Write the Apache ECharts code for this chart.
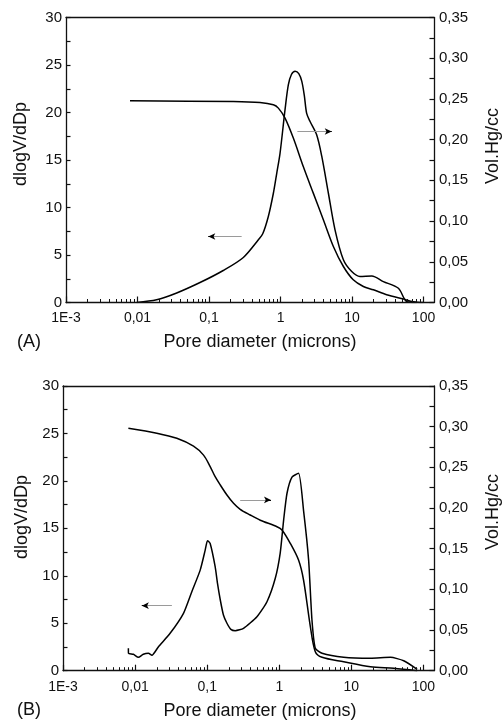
<!DOCTYPE html>
<html><head><meta charset="utf-8">
<script src="https://cdn.jsdelivr.net/npm/echarts@6/dist/echarts.min.js"></script>
<style>html,body{margin:0;padding:0;background:#fff}#c{width:502px;height:721px}</style>
</head><body><div id="c"></div>
<script>
// ---- tick labels ----
const xMajorTicks = [0.001, 0.01, 0.1, 1, 10, 100];
const xTickLabels = ['1E-3', '0,01', '0,1', '1', '10', '100'];
const xMinorTicks = [0.002,0.003,0.004,0.005,0.006,0.007,0.008,0.009,
  0.02,0.03,0.04,0.05,0.06,0.07,0.08,0.09,
  0.2,0.3,0.4,0.5,0.6,0.7,0.8,0.9,
  2,3,4,5,6,7,8,9,
  20,30,40,50,60,70,80,90];

// ---- Panel A ----
const aDlogX = [0.00975,0.0185,0.0353,0.0748,0.158,0.302,0.49,0.564,0.675,0.794,0.885,0.984,1.156,1.285,1.42,1.6,1.8,1.98,2.15,2.32,2.59,3.2,3.77,4.67,5.78,7.57,9.9,12.9,18.9,27.4,44.5,58.2,80];
const aDlogY = [0,0.28,1.0,2.1,3.37,4.74,6.6,7.23,9.05,11.5,13.6,15.7,20.3,22.9,24.0,24.35,24.1,23.3,21.8,19.9,19.05,17.65,15.4,11.5,7.65,4.5,3.26,2.74,2.8,2.2,1.5,0.1,0];
const aVolX = [0.00785,0.219,0.516,0.794,0.933,1.156,1.51,2.08,2.88,3.97,5.48,7.57,10.4,14.4,19.9,30.5,52,72,100];
const aVolY = [0.2477,0.2468,0.2456,0.2428,0.2387,0.2264,0.2019,0.167,0.134,0.1016,0.0688,0.0442,0.0279,0.0197,0.0156,0.0095,0.0042,0.001,0];

// ---- Panel B ----
const bDlogX = [0.00807,0.0081,0.00946,0.0111,0.013,0.0153,0.0171,0.0211,0.0306,0.0469,0.0612,0.08,0.0938,0.101,0.110,0.129,0.139,0.152,0.168,0.188,0.213,0.245,0.319,0.49,0.675,0.88,1.03,1.15,1.28,1.5,1.85,2.17,2.55,2.84,3.16,3.92,7.82,18.4,34.8,53.2,81.8];
const bDlogY = [2.36,1.83,1.73,1.41,1.73,1.83,1.62,2.53,3.94,6.05,8.33,10.6,12.7,13.7,13.4,10.96,9.2,7.45,5.87,5.0,4.36,4.22,4.47,5.69,7.27,9.74,12.4,15.9,18.7,20.4,20.8,16.9,11.7,5.34,2.36,1.83,1.41,1.31,1.41,1.05,0.15];
const bVolX = [0.00807,0.02,0.0379,0.0646,0.089,0.110,0.129,0.152,0.188,0.232,0.287,0.395,0.545,0.929,1.09,1.42,1.85,2.17,2.7,3.16,3.92,7.82,18.4,38.7,81.8];
const bVolY = [0.298,0.2919,0.2857,0.276,0.265,0.251,0.2385,0.2283,0.216,0.2058,0.1984,0.1914,0.185,0.177,0.173,0.1566,0.136,0.1115,0.054,0.0234,0.0165,0.011,0.0049,0.003,0];

// ---- arrows: [xStart, xEnd, y on left axis] ----
const aArrows = [[0.286, 0.0977, 6.95], [1.72, 5.2, 18.0]];
const bArrows = [[0.0324, 0.0124, 6.85], [0.287, 0.767, 18.0]];

const zip = (xs, ys) => xs.map((x, i) => [x, ys[i]]);
const TXT = '#111';
const FONT = 'Liberation Sans, Arial, sans-serif';
const AX = '#111';

function xAxesFor(g) {
  return [{
    type: 'log', logBase: 10, gridIndex: g, position: 'bottom', min: 0.001, max: 140,
    axisLine: { show: true, onZero: false, lineStyle: { color: AX, width: 1.3 } },
    axisTick: { show: true, inside: true, length: 6, customValues: xMajorTicks, lineStyle: { color: AX, width: 1.2 } },
    axisLabel: { show: true, customValues: xMajorTicks, fontSize: 14, color: TXT, fontFamily: FONT, margin: 9,
      formatter: v => xTickLabels[Math.round(Math.log10(v)) + 3] },
    splitLine: { show: false }, z: 5
  }, {
    type: 'log', logBase: 10, gridIndex: g, position: 'bottom', min: 0.001, max: 140,
    axisLine: { show: false, onZero: false },
    axisTick: { show: true, inside: true, length: 3.5, customValues: xMinorTicks, lineStyle: { color: AX, width: 1 } },
    axisLabel: { show: false },
    splitLine: { show: false }, z: 5
  }, {
    type: 'log', logBase: 10, gridIndex: g, position: 'top', min: 0.001, max: 140,
    axisLine: { show: true, onZero: false, lineStyle: { color: AX, width: 1.3 } },
    axisTick: { show: false }, axisLabel: { show: false }, splitLine: { show: false }
  }];
}
function yAxesFor(g) {
  return [{
    type: 'value', gridIndex: g, position: 'left', min: 0, max: 30, interval: 2.5,
    axisLine: { show: true, onZero: false, lineStyle: { color: AX, width: 1.3 } },
    axisTick: { show: true, inside: true, length: 4.5, lineStyle: { color: AX, width: 1.2 } },
    axisLabel: { fontSize: 15, color: TXT, fontFamily: FONT, margin: 4,
      formatter: v => (Math.abs(v % 5) < 1e-9 ? String(v) : '') },
    splitLine: { show: false }, z: 5
  }, {
    type: 'value', gridIndex: g, position: 'right', min: 0, max: 0.35, interval: 0.025,
    axisLine: { show: true, onZero: false, lineStyle: { color: AX, width: 1.3 } },
    axisTick: { show: true, inside: true, length: 4.5, lineStyle: { color: AX, width: 1.2 } },
    axisLabel: { fontSize: 15, color: TXT, fontFamily: FONT, margin: 5,
      formatter: v => (Math.abs(Math.round(v * 1000) % 50) < 1e-6 ? v.toFixed(2).replace('.', ',') : '') },
    splitLine: { show: false }, z: 5
  }];
}
function arrowLines(arr) {
  const out = [];
  arr.forEach(([x0, x1, y]) => {
    out.push([{ coord: [x0, y], symbol: 'none', lineStyle: { color: '#9a9a9a', width: 1, type: 'solid' } },
              { coord: [x1, y], symbol: 'none' }]);
    const xm = Math.pow(10, Math.log10(x1) - (Math.log10(x1) - Math.log10(x0)) * 0.1);
    out.push([{ coord: [xm, y], symbol: 'none', lineStyle: { color: '#000', width: 1, type: 'solid' } },
              { coord: [x1, y], symbol: 'arrow', symbolSize: [5, 7] }]);
  });
  return out;
}
function curve(data, xi, yi, extra) {
  return Object.assign({
    type: 'line', xAxisIndex: xi, yAxisIndex: yi, data: data, showSymbol: false, symbol: 'none',
    smooth: 0.3,
    lineStyle: { color: '#000', width: 1.5 }, silent: true, z: 3
  }, extra || {});
}
function vText(x, y, text) {
  return { type: 'text', x: x, y: y, rotation: Math.PI / 2,
    style: { text: text, font: '18px ' + FONT, fill: TXT, align: 'center', verticalAlign: 'middle' } };
}
function hText(x, y, text) {
  return { type: 'text', x: x, y: y,
    style: { text: text, font: '18px ' + FONT, fill: TXT, align: 'center', verticalAlign: 'middle' } };
}

const chart = echarts.init(document.getElementById('c'), null, { renderer: 'canvas' });
chart.setOption({
  animation: false,
  backgroundColor: '#fff',
  grid: [
    { left: 66, top: 17.5, width: 368, height: 285 },
    { left: 63, top: 386, width: 371, height: 284.7 }
  ],
  xAxis: [...xAxesFor(0), ...xAxesFor(1)],
  yAxis: [...yAxesFor(0), ...yAxesFor(1)],
  series: [
    curve(zip(aDlogX, aDlogY), 0, 0, {
      markLine: { silent: true, animation: false, label: { show: false }, symbol: ['none', 'none'], data: arrowLines(aArrows) }
    }),
    curve(zip(aVolX, aVolY), 0, 1),
    curve(zip(bDlogX, bDlogY), 3, 2, {
      smooth: 0.2,
      markLine: { silent: true, animation: false, label: { show: false }, symbol: ['none', 'none'], data: arrowLines(bArrows) }
    }),
    curve(zip(bVolX, bVolY), 3, 3)
  ],
  graphic: [
    vText(21.5, 144, 'dlogV/dDp'),
    vText(493, 146, 'Vol.Hg/cc'),
    hText(260, 342, 'Pore diameter (microns)'),
    hText(29, 342, '(A)'),
    vText(22, 517, 'dlogV/dDp'),
    vText(493, 512, 'Vol.Hg/cc'),
    hText(260, 711, 'Pore diameter (microns)'),
    hText(29, 710, '(B)')
  ]
});
</script>
</body></html>
